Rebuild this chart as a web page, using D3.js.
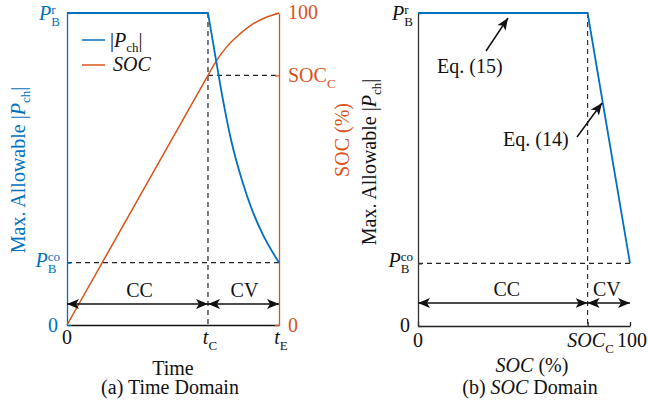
<!DOCTYPE html>
<html>
<head>
<meta charset="utf-8">
<script src="https://cdn.jsdelivr.net/npm/d3@7"></script>
<style>
  body { margin: 0; background: #fff; }
  text { font-family: 'Liberation Serif', 'Times New Roman', serif; }
</style>
</head>
<body>
<script>
var W = 648, H = 404
var BLUE = "#0072BD", RED = "#D95319", FS = 20, SUB = 13

// values (power normalised to P_B^r = 1, time to t_E = 100)
var powerLevels = [0, 0.2, 1]          // 0, P_B^co, P_B^r
var timeMarks = [0, 66.5, 100]         // 0, t_C, t_E
var timeTickLabels = [["0", ""], ["t", "C"], ["t", "E"]]
var socMarks = [0, 80, 100]            // 0, SOC_C, 100

var pchTimeT = [0, 66.5, 70.3, 73.6, 77.4, 82.5, 87.3, 92.0, 100]
var pchTimeV = [1, 1, 0.849, 0.721, 0.593, 0.465, 0.369, 0.295, 0.2]
var socTimeT = [0, 66.5, 70.3, 75.5, 81.6, 87.7, 94.3, 100]
var socTimeV = [0, 80, 84.5, 89.3, 93.3, 96.5, 98.7, 100]

var pchSocS = [0, 80, 100]
var pchSocV = [1, 1, 0.2]

var svg = d3.select("body").append("svg")
	.attr("width", W)
	.attr("height", H)

var defs = svg.append("defs")
defs.append("marker")
	.attr("id", "ah")
	.attr("viewBox", "0 0 12 10")
	.attr("refX", 12).attr("refY", 5)
	.attr("markerWidth", 12).attr("markerHeight", 10)
	.attr("markerUnits", "userSpaceOnUse")
	.attr("orient", "auto-start-reverse")
	.append("path")
	.attr("d", "M0,0 L12,5 L0,10 L3,5 Z")
	.attr("fill", "#111")

// ---- helpers for the mathy labels ----
function pLabel(g, xr, y, sup, color, dyP) {
	var t = g.append("g").attr("fill", color)
	var s1 = t.append("text").attr("font-size", SUB).attr("y", y + dyP - 6).text(sup)
	var s2 = t.append("text").attr("font-size", SUB).attr("y", y + dyP + 6).text("B")
	var w = Math.max(s1.node().getComputedTextLength(), s2.node().getComputedTextLength())
	var x0 = xr - w
	s1.attr("x", x0)
	s2.attr("x", x0)
	t.append("text").attr("font-size", FS).attr("font-style", "italic")
		.attr("x", x0).attr("y", y + dyP).attr("text-anchor", "end").text("P")
}

function subText(g, x, y, main, sub, italic, anchor, color) {
	var t = g.append("text").attr("x", x).attr("y", y).attr("font-size", FS)
		.attr("text-anchor", anchor || "start").attr("fill", color || "#111")
	t.append("tspan").attr("font-style", italic ? "italic" : null).text(main)
	if (sub) t.append("tspan").attr("font-size", SUB).attr("dy", 6).text(sub)
	return t
}

function pchTitle(t) {
	t.append("tspan").text("Max. Allowable |")
	t.append("tspan").attr("font-style", "italic").text("P")
	t.append("tspan").attr("font-size", SUB).attr("dy", 5).text("ch")
	t.append("tspan").attr("dy", -5).text("|")
}

function dblArrow(g, x1, x2, y) {
	g.append("line")
		.attr("x1", x1).attr("x2", x2).attr("y1", y).attr("y2", y)
		.attr("stroke", "#111").attr("stroke-width", 1.5)
		.attr("marker-start", "url(#ah)").attr("marker-end", "url(#ah)")
}

// ================= (a) time domain =================
var xA = d3.scaleLinear().domain([0, 100]).range([67, 279])
var yP = d3.scaleLinear().domain([0, 1]).range([325, 13])
var yS = d3.scaleLinear().domain([0, 100]).range([325, 13])
var gA = svg.append("g")

// dashed guides
var dash = "5,4"
gA.append("line").attr("x1", xA(timeMarks[1])).attr("x2", xA(timeMarks[1]))
	.attr("y1", yP(1)).attr("y2", yP(0))
	.attr("stroke", "#222").attr("stroke-dasharray", dash).attr("stroke-width", 1.2)
gA.append("line").attr("x1", xA(timeMarks[1])).attr("x2", xA(100))
	.attr("y1", yS(socMarks[1])).attr("y2", yS(socMarks[1]))
	.attr("stroke", "#222").attr("stroke-dasharray", dash).attr("stroke-width", 1.2)
gA.append("line").attr("x1", xA(0)).attr("x2", xA(100))
	.attr("y1", yP(powerLevels[1])).attr("y2", yP(powerLevels[1]))
	.attr("stroke", "#222").attr("stroke-dasharray", dash).attr("stroke-width", 1.2)

// axes
gA.append("g").attr("transform", "translate(0," + yP(0) + ")")
	.call(d3.axisBottom(xA).tickValues([]).tickSizeOuter(0))
	.call(function (a) { a.select(".domain").attr("stroke", "#111").attr("stroke-width", 1.3) })
gA.append("g").attr("transform", "translate(" + xA(0) + ",0)")
	.call(d3.axisLeft(yP).tickValues(powerLevels).tickSize(-4).tickSizeOuter(0).tickFormat(""))
	.call(function (a) { a.selectAll("path,line").attr("stroke", BLUE).attr("stroke-width", 1.3) })
gA.append("g").attr("transform", "translate(" + xA(100) + ",0)")
	.call(d3.axisRight(yS).tickValues(socMarks).tickSize(-4).tickSizeOuter(0).tickFormat(""))
	.call(function (a) { a.selectAll("path,line").attr("stroke", RED).attr("stroke-width", 1.3) })

// curves
var pchPts = pchTimeT.map(function (t, i) { return [xA(t), yP(pchTimeV[i])] })
var socPts = socTimeT.map(function (t, i) { return [xA(t), yS(socTimeV[i])] })
var lin = d3.line()
var smooth = d3.line().curve(d3.curveMonotoneX)

gA.append("path").attr("d", lin(socPts.slice(0, 2)) + smooth(socPts.slice(1)).replace(/^M[^C L]*/, ""))
	.attr("fill", "none").attr("stroke", RED).attr("stroke-width", 1.5)
gA.append("path").attr("d", lin(pchPts.slice(0, 2)) + smooth(pchPts.slice(1)).replace(/^M[^C L]*/, ""))
	.attr("fill", "none").attr("stroke", BLUE).attr("stroke-width", 1.8)

// arrows
dblArrow(gA, xA(0), xA(timeMarks[1]), 304)
dblArrow(gA, xA(timeMarks[1]), xA(100), 304)
gA.append("text").attr("x", (xA(0) + xA(timeMarks[1])) / 2 + 2).attr("y", 297)
	.attr("text-anchor", "middle").attr("font-size", FS).attr("fill", "#111").text("CC")
gA.append("text").attr("x", (xA(timeMarks[1]) + xA(100)) / 2 + 1).attr("y", 297)
	.attr("text-anchor", "middle").attr("font-size", FS).attr("fill", "#111").text("CV")

// left (blue) labels
pLabel(gA, 60, yP(1), "r", BLUE, 7)
pLabel(gA, 60, yP(powerLevels[1]), "co", BLUE, 4)
gA.append("text").attr("x", 58).attr("y", yP(0) + 7).attr("text-anchor", "end")
	.attr("font-size", FS).attr("fill", BLUE).text("0")

// right (red) labels
gA.append("text").attr("x", 288).attr("y", yS(100) + 6).attr("font-size", FS).attr("fill", RED).text("100")
subText(gA, 288, yS(socMarks[1]) + 7, "SOC", "C", false, "start", RED)
gA.append("text").attr("x", 288).attr("y", yS(0) + 7).attr("font-size", FS).attr("fill", RED).text("0")

// x tick labels
timeMarks.forEach(function (t, i) {
	var lab = timeTickLabels[i]
	subText(gA, xA(t) + (lab[1] ? 2 : 0), 344, lab[0], lab[1], !!lab[1], "middle")
})
gA.append("text").attr("x", 173).attr("y", 375).attr("text-anchor", "middle")
	.attr("font-size", FS).attr("fill", "#111").text("Time")
gA.append("text").attr("x", 170).attr("y", 394).attr("text-anchor", "middle")
	.attr("font-size", FS).attr("fill", "#111").text("(a) Time Domain")

// axis titles
var tA = gA.append("text").attr("transform", "translate(25,170) rotate(-90)")
	.attr("text-anchor", "middle").attr("font-size", FS).attr("fill", BLUE)
pchTitle(tA)
gA.append("text").attr("transform", "translate(349,140) rotate(-90)")
	.attr("text-anchor", "middle").attr("font-size", FS).attr("fill", RED).text("SOC (%)")

// legend
gA.append("line").attr("x1", 82).attr("x2", 105).attr("y1", 40).attr("y2", 40)
	.attr("stroke", BLUE).attr("stroke-width", 1.5)
gA.append("line").attr("x1", 82).attr("x2", 105).attr("y1", 65).attr("y2", 65)
	.attr("stroke", RED).attr("stroke-width", 1.5)
var lg = gA.append("text").attr("x", 110).attr("y", 47).attr("font-size", FS).attr("fill", "#111")
lg.append("tspan").text("|")
lg.append("tspan").attr("font-style", "italic").text("P")
lg.append("tspan").attr("font-size", SUB).attr("dy", 5).text("ch")
lg.append("tspan").attr("dy", -5).text("|")
gA.append("text").attr("x", 113).attr("y", 71).attr("font-size", FS)
	.attr("font-style", "italic").attr("fill", "#111").text("SOC")

// ================= (b) SOC domain =================
var xB = d3.scaleLinear().domain([0, 100]).range([418, 630])
var yB = d3.scaleLinear().domain([0, 1]).range([326, 13])
var gB = svg.append("g")

gB.append("line").attr("x1", xB(socMarks[1])).attr("x2", xB(socMarks[1]))
	.attr("y1", yB(1)).attr("y2", yB(0))
	.attr("stroke", "#333").attr("stroke-dasharray", dash).attr("stroke-width", 1.2)
gB.append("line").attr("x1", xB(0)).attr("x2", xB(100))
	.attr("y1", yB(powerLevels[1])).attr("y2", yB(powerLevels[1]))
	.attr("stroke", "#222").attr("stroke-dasharray", dash).attr("stroke-width", 1.2)

gB.append("g").attr("transform", "translate(0," + yB(0) + ")")
	.call(d3.axisBottom(xB).tickValues(socMarks).tickSize(-4).tickSizeOuter(0).tickFormat(""))
	.call(function (a) { a.selectAll("path,line").attr("stroke", "#222").attr("stroke-width", 1.3) })
gB.append("g").attr("transform", "translate(" + xB(0) + ",0)")
	.call(d3.axisLeft(yB).tickValues(powerLevels).tickSize(-4).tickSizeOuter(0).tickFormat(""))
	.call(function (a) { a.selectAll("path,line").attr("stroke", "#333").attr("stroke-width", 1.3) })

gB.append("path")
	.attr("d", lin(pchSocS.map(function (s, i) { return [xB(s), yB(pchSocV[i])] })))
	.attr("fill", "none").attr("stroke", BLUE).attr("stroke-width", 1.8)

dblArrow(gB, xB(0), xB(socMarks[1]), 303)
dblArrow(gB, xB(socMarks[1]), xB(100), 303)
gB.append("text").attr("x", (xB(0) + xB(socMarks[1])) / 2 + 4).attr("y", 296)
	.attr("text-anchor", "middle").attr("font-size", FS).attr("fill", "#111").text("CC")
gB.append("text").attr("x", (xB(socMarks[1]) + xB(100)) / 2 - 2).attr("y", 296)
	.attr("text-anchor", "middle").attr("font-size", FS).attr("fill", "#111").text("CV")

pLabel(gB, 413, yB(1), "r", "#111", 7)
pLabel(gB, 413, yB(powerLevels[1]), "co", "#111", 4)
gB.append("text").attr("x", 410).attr("y", yB(0) + 6).attr("text-anchor", "end")
	.attr("font-size", FS).attr("fill", "#111").text("0")

gB.append("text").attr("x", xB(0)).attr("y", 347).attr("text-anchor", "middle")
	.attr("font-size", FS).attr("fill", "#111").text("0")
subText(gB, xB(socMarks[1]) + 3, 347, "SOC", "C", true, "middle")
gB.append("text").attr("x", xB(100) + 2).attr("y", 347).attr("text-anchor", "middle")
	.attr("font-size", FS).attr("fill", "#111").text("100")

var xt = gB.append("text").attr("x", 532).attr("y", 372).attr("text-anchor", "middle")
	.attr("font-size", FS).attr("fill", "#111")
xt.append("tspan").attr("font-style", "italic").text("SOC")
xt.append("tspan").text(" (%)")
var cap = gB.append("text").attr("x", 530).attr("y", 394).attr("text-anchor", "middle")
	.attr("font-size", FS).attr("fill", "#111")
cap.append("tspan").text("(b) ")
cap.append("tspan").attr("font-style", "italic").text("SOC")
cap.append("tspan").text(" Domain")

var tB = gB.append("text").attr("transform", "translate(376,162) rotate(-90)")
	.attr("text-anchor", "middle").attr("font-size", FS).attr("fill", "#111")
pchTitle(tB)

// equation callouts
gB.append("text").attr("x", 437).attr("y", 73).attr("font-size", FS).attr("fill", "#111").text("Eq. (15)")
gB.append("line").attr("x1", 486).attr("y1", 51).attr("x2", 508).attr("y2", 18)
	.attr("stroke", "#111").attr("stroke-width", 1.5).attr("marker-end", "url(#ah)")
gB.append("text").attr("x", 503).attr("y", 146).attr("font-size", FS).attr("fill", "#111").text("Eq. (14)")
gB.append("line").attr("x1", 577).attr("y1", 137).attr("x2", 602).attr("y2", 103)
	.attr("stroke", "#111").attr("stroke-width", 1.5).attr("marker-end", "url(#ah)")
</script>
</body>
</html>
